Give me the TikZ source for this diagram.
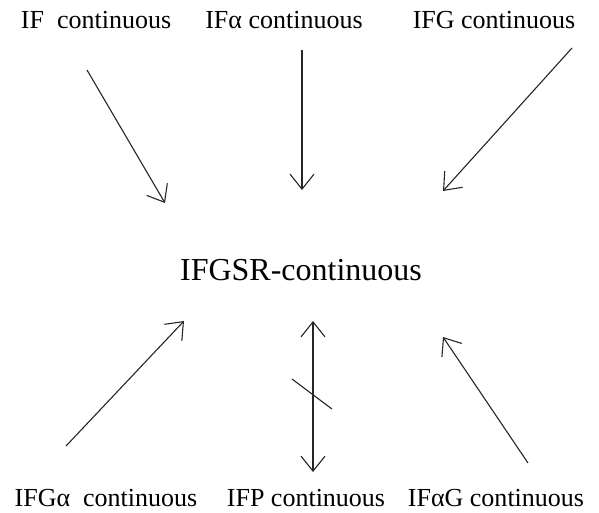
\documentclass[tikz,border=0pt]{standalone}
\usepackage{fontspec}
\setmainfont{Liberation Serif}
\usetikzlibrary{arrows.meta}
\tikzset{
  lbl/.style={inner sep=0pt, anchor=base, font=\fontsize{26}{30}\selectfont},
  clbl/.style={inner sep=0pt, anchor=base, font=\fontsize{32}{36}\selectfont},
  arr/.style={draw=black!85, line width=1.1pt, -{Straight Barb[length=15pt,width=24pt,line width=1.1pt]}},
  darr/.style={draw=black!85, line width=1.1pt, {Straight Barb[length=15pt,width=24pt,line width=1.1pt]}-{Straight Barb[length=15pt,width=24pt,line width=1.1pt]}},
}
\begin{document}
\begin{tikzpicture}[x=1pt,y=-1pt]
\useasboundingbox (0,0) rectangle (599,512);
% labels
\node[lbl] (t1) at (96,28) {IF\ \ continuous};
\node[lbl] (t2) at (284,28) {IFα continuous};
\node[lbl] (t3) at (494,28) {IFG continuous};
\node[clbl] (c) at (301,280) {IFGSR-continuous};
\node[lbl] (b1) at (106,506) {IFGα\ \ continuous};
\node[lbl] (b2) at (306,506) {IFP continuous};
\node[lbl] (b3) at (496,506) {IFαG continuous};
% arrow endpoints
\coordinate (a1s) at (87,70);   \coordinate (a1e) at (165,203);
\coordinate (a2s) at (302,50);  \coordinate (a2e) at (302,190);
\coordinate (a3s) at (572,48);  \coordinate (a3e) at (443,191);
\coordinate (a4s) at (66,446);  \coordinate (a4e) at (184,321);
\coordinate (a5s) at (313,472); \coordinate (a5e) at (313,321);
\coordinate (a6s) at (528,463); \coordinate (a6e) at (443,337);
\coordinate (s1) at (292,379);  \coordinate (s2) at (332,409);
\draw[arr] (a1s) -- (a1e);
\draw[arr] (a2s) -- (a2e);
\draw[arr] (a3s) -- (a3e);
\draw[arr] (a4s) -- (a4e);
\draw[darr] (a5s) -- (a5e);
\draw[arr] (a6s) -- (a6e);
\draw[draw=black!85, line width=1.1pt] (s1) -- (s2);
\end{tikzpicture}
\end{document}
